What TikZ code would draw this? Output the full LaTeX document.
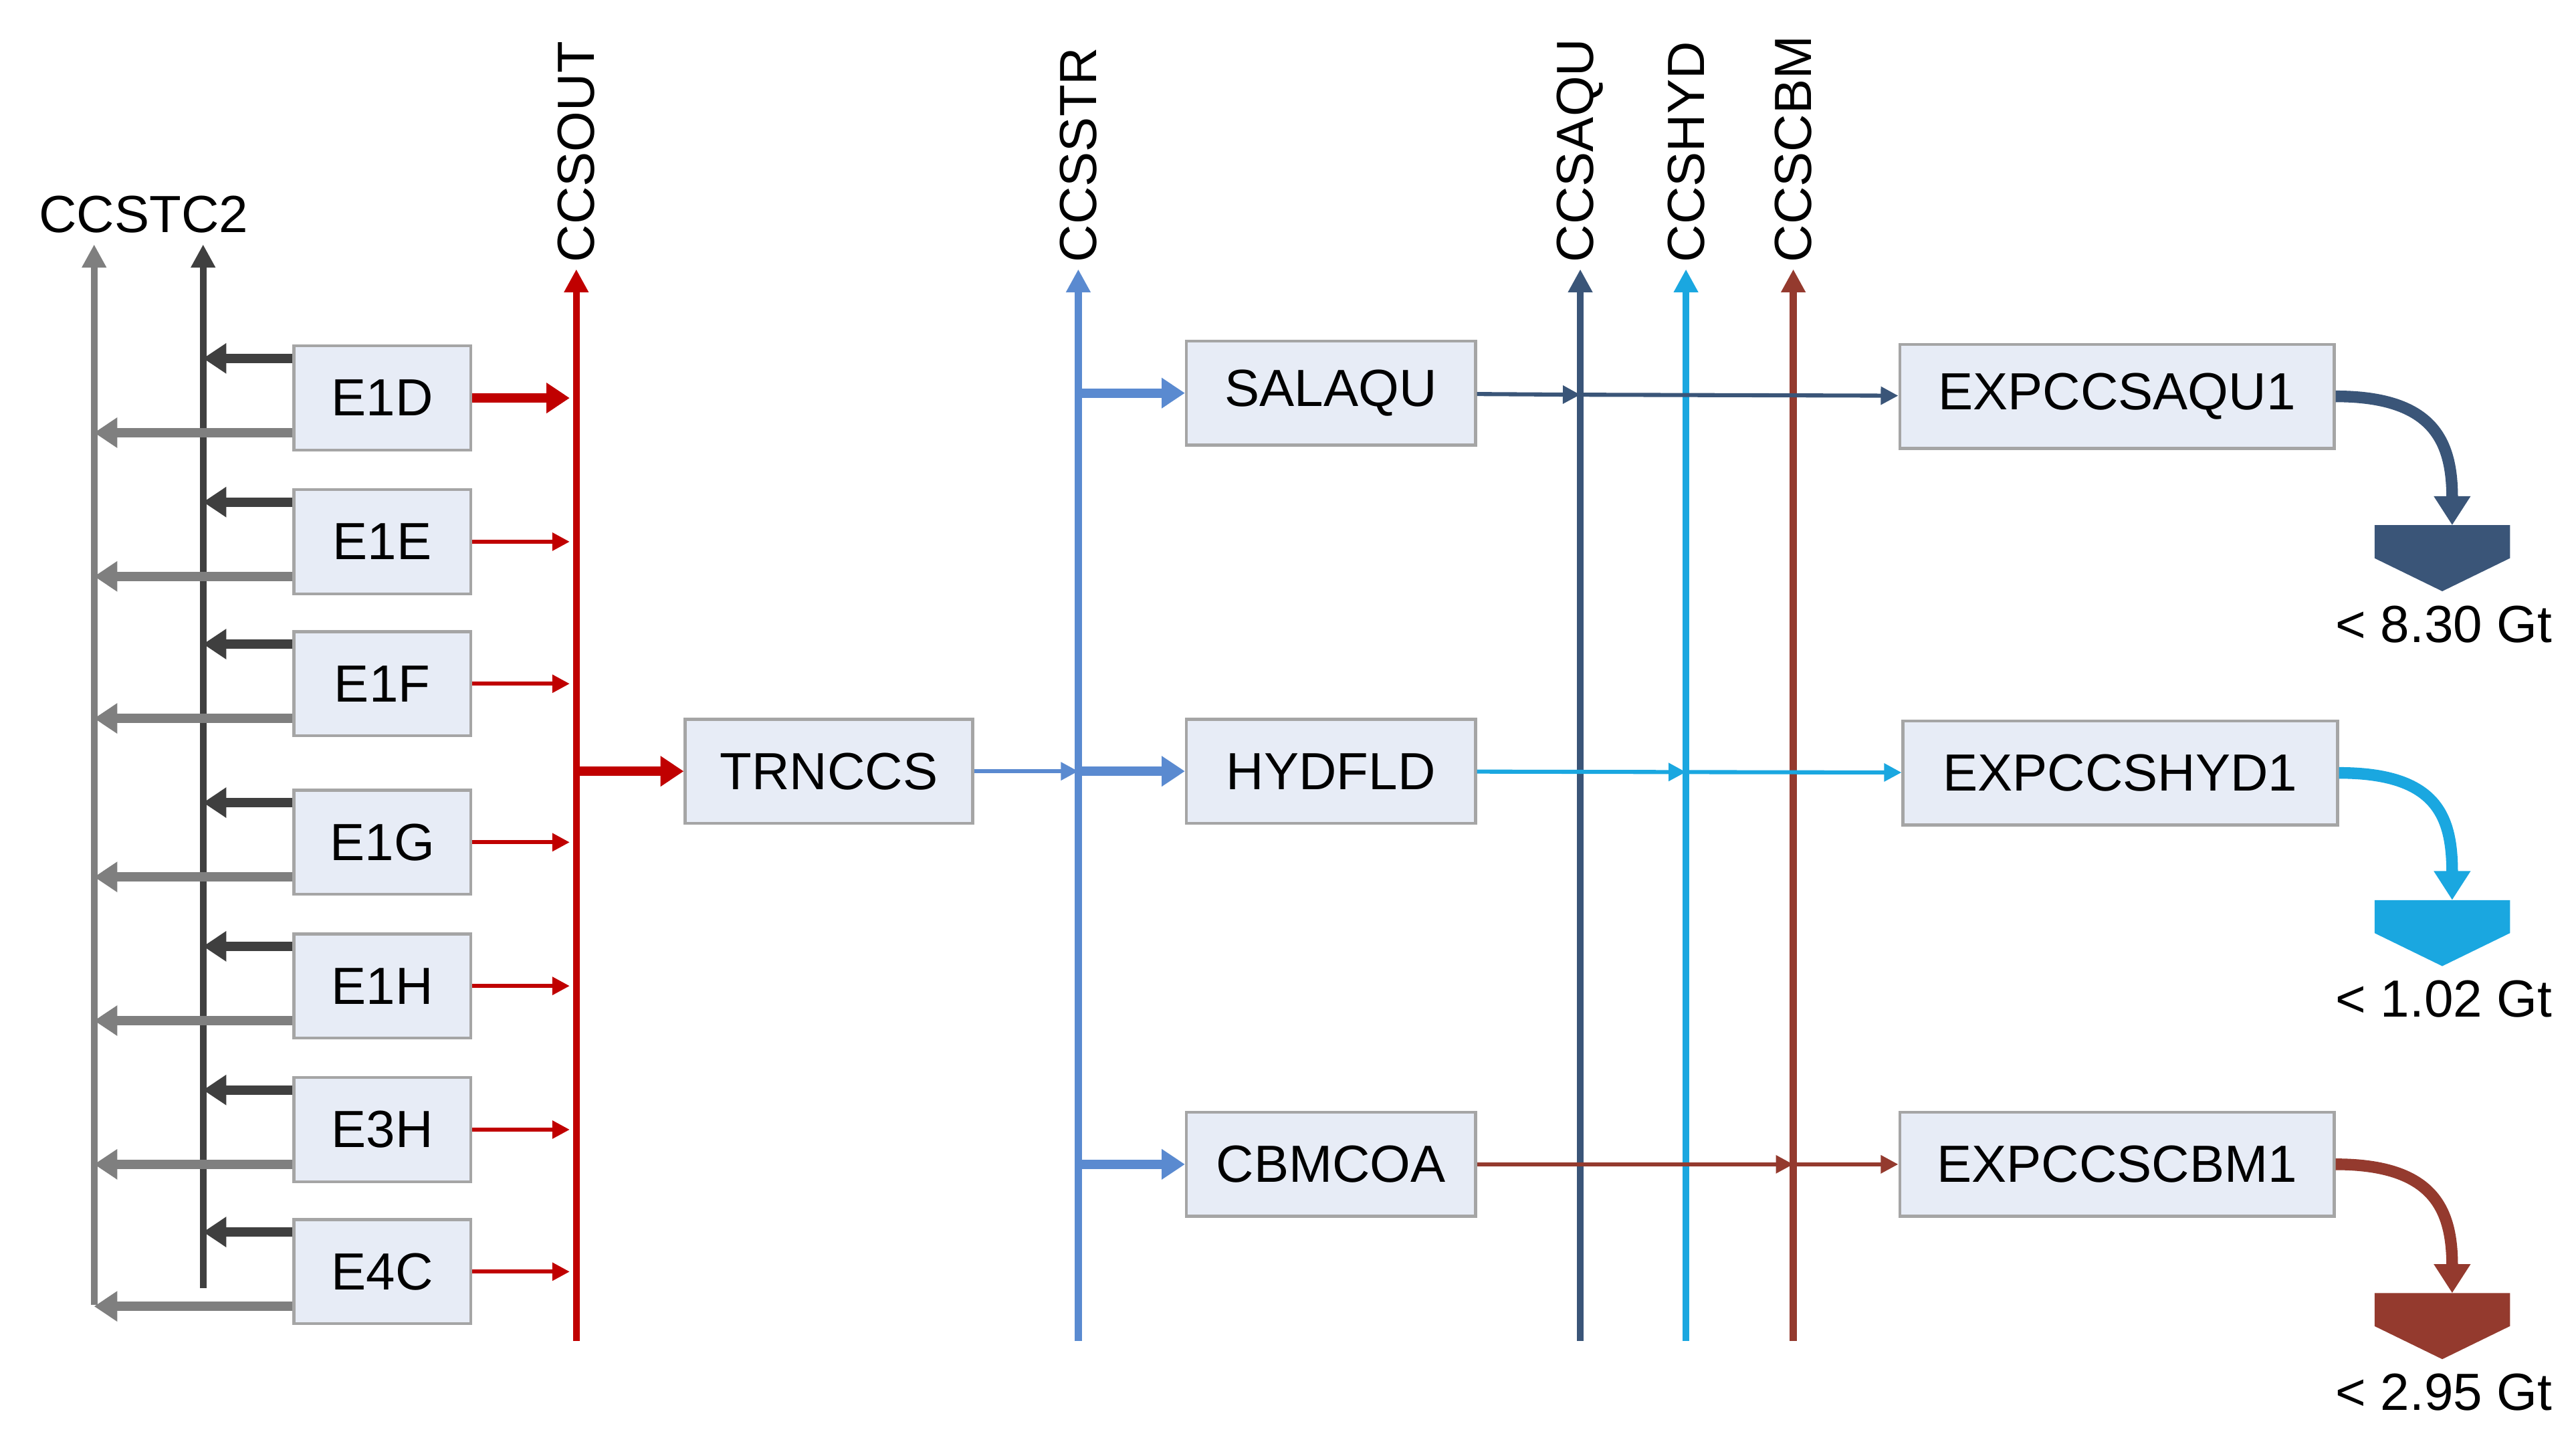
\documentclass[tikz,border=0pt]{standalone}
\usepackage{fontspec}
\setmainfont{Liberation Sans}
\usetikzlibrary{arrows.meta}
\definecolor{cred}{HTML}{C00000}
\definecolor{cblue}{HTML}{5A8AD0}
\definecolor{caqu}{HTML}{3A5578}
\definecolor{chyd}{HTML}{1AA7E0}
\definecolor{ccbm}{HTML}{943A2E}
\definecolor{cgray}{HTML}{7F7F7F}
\definecolor{cdark}{HTML}{3F3F3F}
\definecolor{boxfill}{HTML}{E7ECF6}
\begin{document}
\begin{tikzpicture}[x=0.01cm,y=-0.01cm,font=\fontsize{9}{10}\selectfont,
  box/.style={draw=cgray!70,fill=boxfill,line width=0.5pt,minimum height=0.63cm,inner sep=0pt},
  vl/.style={line width=1.2pt,-{Triangle[length=4pt,width=4pt]}},
  thk/.style={line width=1.6pt,-{Triangle[length=4pt,width=5pt]}},
  thn/.style={line width=0.7pt,-{Triangle[length=3pt,width=3pt]}},
  lab/.style={rotate=90,anchor=west,inner sep=1pt}]
\useasboundingbox (0,0) rectangle (1560,878);
% left buses
\coordinate (g0) at (57,790); \coordinate (g1) at (57,148);
\coordinate (d0) at (123,780); \coordinate (d1) at (123,148);
\draw[vl,cgray] (g0) -- (g1);
\draw[vl,cdark] (d0) -- (d1);
\node (ccstc2) at (87,130) {CCSTC2};
% red bus
\coordinate (r0) at (349,812); \coordinate (r1) at (349,163);
\draw[vl,cred] (r0) -- (r1);
\node[lab] (ccsout) at (r1) {CCSOUT};
\foreach \n/\y/\w in {E1D/241/thk,E1E/328/thn,E1F/414/thn,E1G/510/thn,E1H/597/thn,E3H/684/thn,E4C/770/thn}{
  \node[box,minimum width=1.07cm] (\n) at (231.5,\y) {\n};
  \coordinate (\n d) at (123,\y-24); \coordinate (\n g) at (57,\y+21); \coordinate (\n r) at (345,\y);
  \draw[thk,cdark] (\n.west |- \n d) -- (\n d);
  \draw[thk,cgray] (\n.west |- \n g) -- (\n g);
  \draw[\w,cred] (\n) -- (\n r);
}
\node[box,minimum width=1.74cm] (trn) at (502,467) {TRNCCS};
\coordinate (rt) at (349,467);
\draw[thk,cred] (rt) -- (trn);
% blue bus
\coordinate (b0) at (653,812); \coordinate (b1) at (653,163);
\draw[vl,cblue] (b0) -- (b1);
\node[lab] (ccsstr) at (b1) {CCSSTR};
\coordinate (bt) at (653,467);
\draw[thn,cblue] (trn) -- (bt);
\node[box,minimum width=1.75cm] (sal) at (806,238) {SALAQU};
\node[box,minimum width=1.75cm] (hyd) at (806,467) {HYDFLD};
\node[box,minimum width=1.75cm] (cbm) at (806,705) {CBMCOA};
\foreach \t/\y in {sal/238,hyd/467,cbm/705}{
  \coordinate (b\t) at (653,\y);
  \draw[thk,cblue] (b\t) -- (\t);
}
% product buses
\foreach \c/\x/\t in {caqu/957/CCSAQU,chyd/1021/CCSHYD,ccbm/1086/CCSCBM}{
  \coordinate (\t0) at (\x,812); \coordinate (\t1) at (\x,163);
  \draw[vl,\c] (\t0) -- (\t1);
  \node[lab] (\t) at (\t1) {\t};
}
\node[box,minimum width=2.63cm] (xaqu) at (1282,240) {EXPCCSAQU1};
\node[box,minimum width=2.63cm] (xhyd) at (1284,468) {EXPCCSHYD1};
\node[box,minimum width=2.63cm] (xcbm) at (1282,705) {EXPCCSCBM1};
\coordinate (maqu) at (957,239); \coordinate (mhyd) at (1021,467.5); \coordinate (mcbm) at (1086,705);
\draw[thn,caqu] (sal) -- (maqu); \draw[thn,caqu] (maqu) -- (xaqu);
\draw[thn,chyd] (hyd) -- (mhyd); \draw[thn,chyd] (mhyd) -- (xhyd);
\draw[thn,ccbm] (cbm) -- (mcbm); \draw[thn,ccbm] (mcbm) -- (xcbm);
% tanks
\foreach \c/\s/\y/\v in {caqu/xaqu/318/8.30,chyd/xhyd/545/1.02,ccbm/xcbm/783/2.95}{
  \fill[\c] (1438,\y) -- (1520,\y) -- (1520,\y+20) -- (1479,\y+40) -- (1438,\y+20) -- cycle;
  \coordinate (t\s) at (1485,\y);
  \draw[line width=2pt,\c,-{Triangle[length=5pt,width=6pt]}] (\s.east) .. controls +(60,0) and +(0,-50) .. (t\s);
  \node (v\s) at (1480,\y+60) {< \v\ Gt};
}
\end{tikzpicture}
\end{document}
